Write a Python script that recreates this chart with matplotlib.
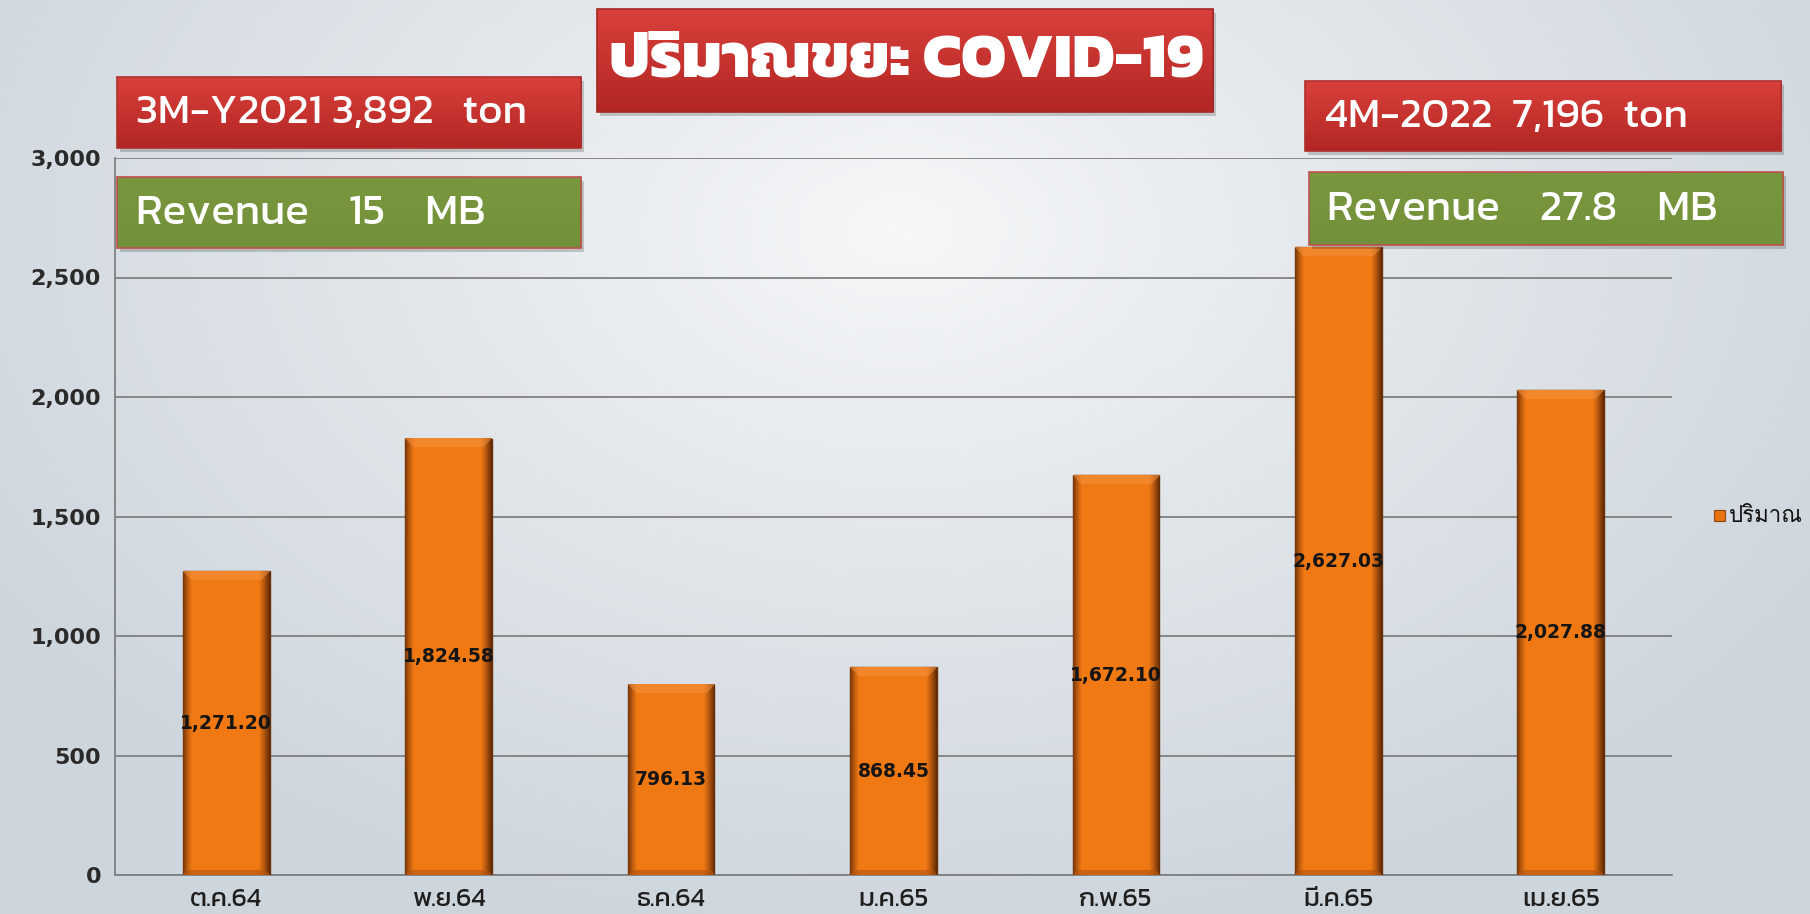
import numpy as np
import matplotlib
matplotlib.use("Agg")
import matplotlib.pyplot as plt
from matplotlib import font_manager as fm

# ---- data ----
categories = ["ต.ค.64", "พ.ย.64", "ธ.ค.64", "ม.ค.65", "ก.พ.65", "มี.ค.65", "เม.ย.65"]
values = [1271.20, 1824.58, 796.13, 868.45, 1672.10, 2627.03, 2027.88]
yticks = [0, 500, 1000, 1500, 2000, 2500, 3000]
title = "ปริมาณขยะ COVID-19"
legend_label = "ปริมาณ"
box_texts = ["3M-Y2021 3,892   ton", "Revenue    15    MB",
             "4M-2022  7,196  ton", "Revenue    27.8    MB"]

installed = {f.name for f in fm.fontManager.ttflist}
def pick(*names):
    for n in names:
        if n in installed:
            return [n, "DejaVu Sans"]
    return ["DejaVu Sans"]

fam_title = pick("Kanit", "Prompt", "Mitr", "Noto Sans Thai")
fam_box = pick("Kanit", "Prompt", "Noto Sans Thai")
fam_tick = pick("Kanit", "Chakra Petch", "Noto Sans Thai")
fam_leg = pick("Loma", "Noto Sans Thai", "Kanit")

W, H = 1810, 914
fig = plt.figure(figsize=(W / 100, H / 100), dpi=100)

# background radial gradient
bg = fig.add_axes([0, 0, 1, 1], zorder=-10)
yy, xx = np.mgrid[0:H, 0:W]
r = np.sqrt(((xx - 900) / 1050.0) ** 2 + ((yy - 230) / 700.0) ** 2)
r = np.clip(r, 0, 1) ** 0.9
c0 = np.array([0.965, 0.97, 0.975])
c1 = np.array([0.81, 0.84, 0.87])
img = c0[None, None, :] * (1 - r[..., None]) + c1[None, None, :] * r[..., None]
bg.imshow(img, aspect="auto", extent=[0, 1, 0, 1], origin="upper")
bg.axis("off")

ax = fig.add_axes([115 / W, 1 - 875 / H, (1672 - 115) / W, (875 - 158) / H])
ax.set_facecolor("none")
x = np.arange(len(categories))
bars = ax.bar(x, values, width=0.39, color="#F07814", edgecolor="#6A3006",
              linewidth=1.0, zorder=3, label=legend_label)
ax.set_xlim(-0.5, len(categories) - 0.5)
ax.set_ylim(0, 3000)
ax.set_yticks(yticks)
ax.set_yticklabels([f"{v:,}" for v in yticks], fontsize=16, color="#2a2a2a",
                   fontweight="bold")
ax.set_xticks(x)
ax.set_xticklabels(categories, fontsize=19, color="#1e1e1e", family=fam_tick,
                   fontweight="normal")
ax.tick_params(axis="y", length=0, pad=10)
ax.tick_params(axis="x", length=0, pad=9)
ax.grid(axis="y", color="#808080", linewidth=1.3, zorder=0)
for s in ["top", "right"]:
    ax.spines[s].set_visible(False)
ax.spines["left"].set_color("#808080")
ax.spines["bottom"].set_color("#808080")
ax.spines["left"].set_linewidth(1.3)
ax.spines["bottom"].set_linewidth(1.3)

fig.canvas.draw()

# bevel shading on bars
orange = np.array([0.945, 0.475, 0.08])
dark = np.array([0.33, 0.14, 0.02])
light = np.array([0.96, 0.58, 0.26])
bottomc = np.array([0.70, 0.33, 0.05])
for b in bars:
    bb = b.get_window_extent()
    wpx = max(int(round(bb.width)), 2)
    hpx = max(int(round(bb.height)), 2)
    X, Y = np.meshgrid(np.arange(wpx), np.arange(hpx))
    dxl = X
    dxr = wpx - 1 - X
    dyt = Y
    dyb = hpx - 1 - Y
    col = np.tile(orange, (hpx, wpx, 1))
    e = 9.0
    wl = np.clip(1 - dxl / e, 0, 1) ** 1.3 * 0.75
    wr = np.clip(1 - dxr / (e + 2), 0, 1) ** 1.2 * 0.9
    ws = np.maximum(wl, wr)
    col = col * (1 - ws[..., None]) + dark * ws[..., None]
    tmask = (dyt < e) & (dyt <= np.minimum(dxl, dxr))
    col[tmask] = col[tmask] * 0.5 + light * 0.5
    bmask = (dyb < 5) & (dyb <= np.minimum(dxl, dxr))
    col[bmask] = col[bmask] * 0.4 + bottomc * 0.6
    ax.imshow(col, extent=[b.get_x(), b.get_x() + b.get_width(), 0, b.get_height()],
              aspect="auto", origin="upper", zorder=4, clip_path=b, clip_on=True,
              interpolation="bilinear")
ax.set_xlim(-0.5, len(categories) - 0.5)
ax.set_ylim(0, 3000)

for xi, v in zip(x, values):
    ax.text(xi, v / 2, f"{v:,.2f}", ha="center", va="center", fontsize=13.5,
            fontweight="bold", color="#151515", zorder=6)

# overlay in pixel coordinates for boxes and legend
ov = fig.add_axes([0, 0, 1, 1], zorder=10)
ov.set_xlim(0, W)
ov.set_ylim(H, 0)
ov.axis("off")
ov.patch.set_alpha(0)

ov.add_patch(plt.Rectangle((1714, 510), 11, 11, facecolor="#E8720F",
                           edgecolor="#8a4a10", linewidth=0.8))
ov.text(1729, 516, legend_label, fontsize=16, va="center", family=fam_leg,
        color="#111111")

def fit(t, target_w):
    fig.canvas.draw()
    w = t.get_window_extent().width
    t.set_fontsize(t.get_fontsize() * target_w / w)

def box(x0, y0, x1, y1, ctop, cbot, edge, text, tx0, tx1, family, weight, fs):
    ov.add_patch(plt.Rectangle((x0 + 3, y0 + 4), x1 - x0, y1 - y0, facecolor="black",
                               alpha=0.18, edgecolor="none", zorder=1))
    grad = np.linspace(0, 1, 64)[:, None, None]
    g = np.array(ctop)[None, None, :] * (1 - grad) + np.array(cbot)[None, None, :] * grad
    g = np.repeat(g, 4, axis=1)
    ov.imshow(g, extent=[x0, x1, y1, y0], aspect="auto", interpolation="bilinear",
              zorder=2)
    ov.add_patch(plt.Rectangle((x0, y0), x1 - x0, y1 - y0, facecolor="none",
                               edgecolor=edge, linewidth=1.2, zorder=3))
    t = ov.text(tx0, (y0 + y1) / 2 + 1, text, fontsize=fs, color="white", ha="left",
                va="center", family=family, fontweight=weight, zorder=4)
    fit(t, tx1 - tx0)

red_top, red_bot = (0.85, 0.25, 0.23), (0.70, 0.15, 0.14)
grn_top, grn_bot = (0.47, 0.59, 0.24), (0.45, 0.57, 0.23)
box(597, 9, 1213, 112, red_top, red_bot, "#A52622", title, 609, 1203,
    fam_title, "heavy", 40)
box(117, 77, 581, 148, red_top, red_bot, "#B0302C", box_texts[0], 136, 526,
    fam_box, "normal", 24)
box(117, 177, 581, 248, grn_top, grn_bot, "#C0504D", box_texts[1], 136, 486,
    fam_box, "normal", 24)
box(1305, 81, 1781, 151, red_top, red_bot, "#B0302C", box_texts[2], 1325, 1686,
    fam_box, "normal", 24)
box(1309, 172, 1783, 245, grn_top, grn_bot, "#C0504D", box_texts[3], 1327, 1718,
    fam_box, "normal", 24)

fig.savefig("out.png", dpi=100)
